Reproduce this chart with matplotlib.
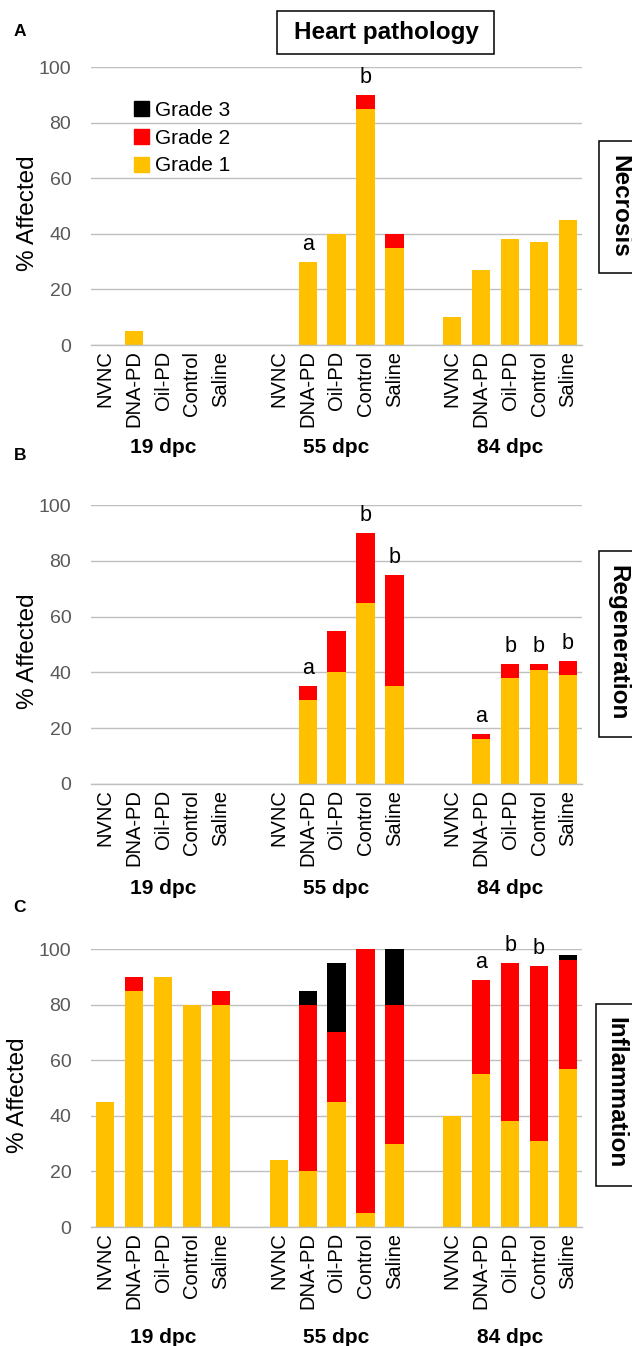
import numpy as np
import matplotlib
matplotlib.use("Agg")
import matplotlib.pyplot as plt
from matplotlib.patches import Patch, Rectangle

plt.rcParams['font.family'] = ['Liberation Sans', 'DejaVu Sans']

# ---- data -------------------------------------------------------------
groups = ['19 dpc', '55 dpc', '84 dpc']
treatments = ['NVNC', 'DNA-PD', 'Oil-PD', 'Control', 'Saline']

necrosis_g1 = [0, 5, 0, 0, 0,   0, 30, 40, 85, 35,   10, 27, 38, 37, 45]
necrosis_g2 = [0, 0, 0, 0, 0,   0, 0, 0, 5, 5,       0, 0, 0, 0, 0]
necrosis_g3 = [0, 0, 0, 0, 0,   0, 0, 0, 0, 0,       0, 0, 0, 0, 0]
necrosis_sig = ['', '', '', '', '',   '', 'a', '', 'b', '',   '', '', '', '', '']

regen_g1 = [0, 0, 0, 0, 0,   0, 30, 40, 65, 35,   0, 16, 38, 41, 39]
regen_g2 = [0, 0, 0, 0, 0,   0, 5, 15, 25, 40,    0, 2, 5, 2, 5]
regen_g3 = [0, 0, 0, 0, 0,   0, 0, 0, 0, 0,       0, 0, 0, 0, 0]
regen_sig = ['', '', '', '', '',   '', 'a', '', 'b', 'b',   '', 'a', 'b', 'b', 'b']

inflam_g1 = [45, 85, 90, 80, 80,   24, 20, 45, 5, 30,   40, 55, 38, 31, 57]
inflam_g2 = [0, 5, 0, 0, 5,        0, 60, 25, 95, 50,   0, 34, 57, 63, 39]
inflam_g3 = [0, 0, 0, 0, 0,        0, 5, 25, 0, 20,     0, 0, 0, 0, 2]
inflam_sig = ['', '', '', '', '',   '', '', '', '', '',   '', 'a', 'b', 'b', '']

grade_labels = ['Grade 1', 'Grade 2', 'Grade 3']
grade_colors = ['#FFC000', '#FF0000', '#000000']

# ---- layout -----------------------------------------------------------
W, H = 632, 1346
fig = plt.figure(figsize=(W / 100, H / 100), dpi=100)


def add_axes_px(left, top, right, bottom):
    return fig.add_axes([left / W, 1 - bottom / H, (right - left) / W, (bottom - top) / H])


def framed_box(left, top, right, bottom):
    fig.patches.append(Rectangle((left / W, 1 - bottom / H), (right - left) / W,
                                 (bottom - top) / H, transform=fig.transFigure,
                                 facecolor='white', edgecolor='black', linewidth=1.1,
                                 zorder=1))


positions = [gi * 6 + ti for gi in range(len(groups)) for ti in range(len(treatments))]
group_centers = [gi * 6 + 2 for gi in range(len(groups))]


def draw_panel(ax, g1, g2, g3, sig, ylabel_x, group_y):
    g1 = np.array(g1, float)
    g2 = np.array(g2, float)
    g3 = np.array(g3, float)
    bw = 0.63
    ax.bar(positions, g1, bw, color=grade_colors[0], zorder=2)
    ax.bar(positions, g2, bw, bottom=g1, color=grade_colors[1], zorder=2)
    ax.bar(positions, g3, bw, bottom=g1 + g2, color=grade_colors[2], zorder=2)

    ax.set_xlim(-0.5, 16.5)
    ax.set_ylim(0, 100)
    ax.set_yticks(range(0, 101, 20))
    ax.yaxis.grid(True, color='#BFBFBF', linewidth=1.0, zorder=0)
    ax.set_axisbelow(True)
    for s in ['top', 'right', 'left']:
        ax.spines[s].set_visible(False)
    ax.spines['bottom'].set_color('#BFBFBF')
    ax.spines['bottom'].set_linewidth(1.0)

    ax.set_xticks(positions)
    ax.set_xticklabels(treatments * len(groups), rotation=90, fontsize=14.5)
    ax.tick_params(axis='x', length=0, pad=4)
    ax.tick_params(axis='y', length=0, pad=14, labelsize=14, labelcolor='#595959')

    ax.text(ylabel_x, 0.475, '% Affected', rotation=90, fontsize=17.5,
            ha='center', va='center', transform=ax.transAxes)

    for gc, gname in zip(group_centers, groups):
        ax.text(gc, group_y, gname, fontsize=15, fontweight='bold',
                ha='center', va='center', transform=ax.get_xaxis_transform())

    totals = g1 + g2 + g3
    for x, t, s in zip(positions, totals, sig):
        if s:
            ax.annotate(s, xy=(x, t), xytext=(0, 5), textcoords='offset points',
                        ha='center', va='bottom', fontsize=15.5,
                        annotation_clip=False)


axA = add_axes_px(90.7, 67, 582.4, 345)
axB = add_axes_px(90.7, 505, 582.4, 784)
axC = add_axes_px(90.7, 949, 582.4, 1227)

draw_panel(axA, necrosis_g1, necrosis_g2, necrosis_g3, necrosis_sig, -0.1275, -0.367)
draw_panel(axB, regen_g1, regen_g2, regen_g3, regen_sig, -0.1275, -0.373)
draw_panel(axC, inflam_g1, inflam_g2, inflam_g3, inflam_sig, -0.148, -0.396)

# legend (Grade 3 on top)
handles = [Patch(color=c) for c in grade_colors[::-1]]
axA.legend(handles, grade_labels[::-1], loc='upper left',
           bbox_to_anchor=(0.0877, 0.878), frameon=False, fontsize=15,
           handlelength=0.75, handleheight=0.75, handletextpad=0.25,
           labelspacing=0.42, borderpad=0, borderaxespad=0)

# title box
framed_box(277, 11, 494, 54)
fig.text(386 / W, 1 - 32.5 / H, 'Heart pathology', fontsize=17.5, fontweight='bold',
         ha='center', va='center', zorder=2)

# side labels in boxes running off the right edge
for label, xc, yc, box in [('Necrosis', 619.7, 206, (598.5, 141, 645, 273)),
                           ('Regeneration', 617.7, 643, (599, 551, 645, 737)),
                           ('Inflammation', 615.7, 1093, (596, 1004, 645, 1186))]:
    framed_box(*box)
    fig.text(xc / W, 1 - yc / H, label, rotation=-90, fontsize=17.5, fontweight='bold',
             ha='center', va='center', zorder=2)

# panel letters
for letter, yc in [('A', 32), ('B', 456), ('C', 908)]:
    fig.text(20 / W, 1 - yc / H, letter, fontsize=12.5, fontweight='bold',
             ha='center', va='center')

fig.savefig('out.png', dpi=100)
